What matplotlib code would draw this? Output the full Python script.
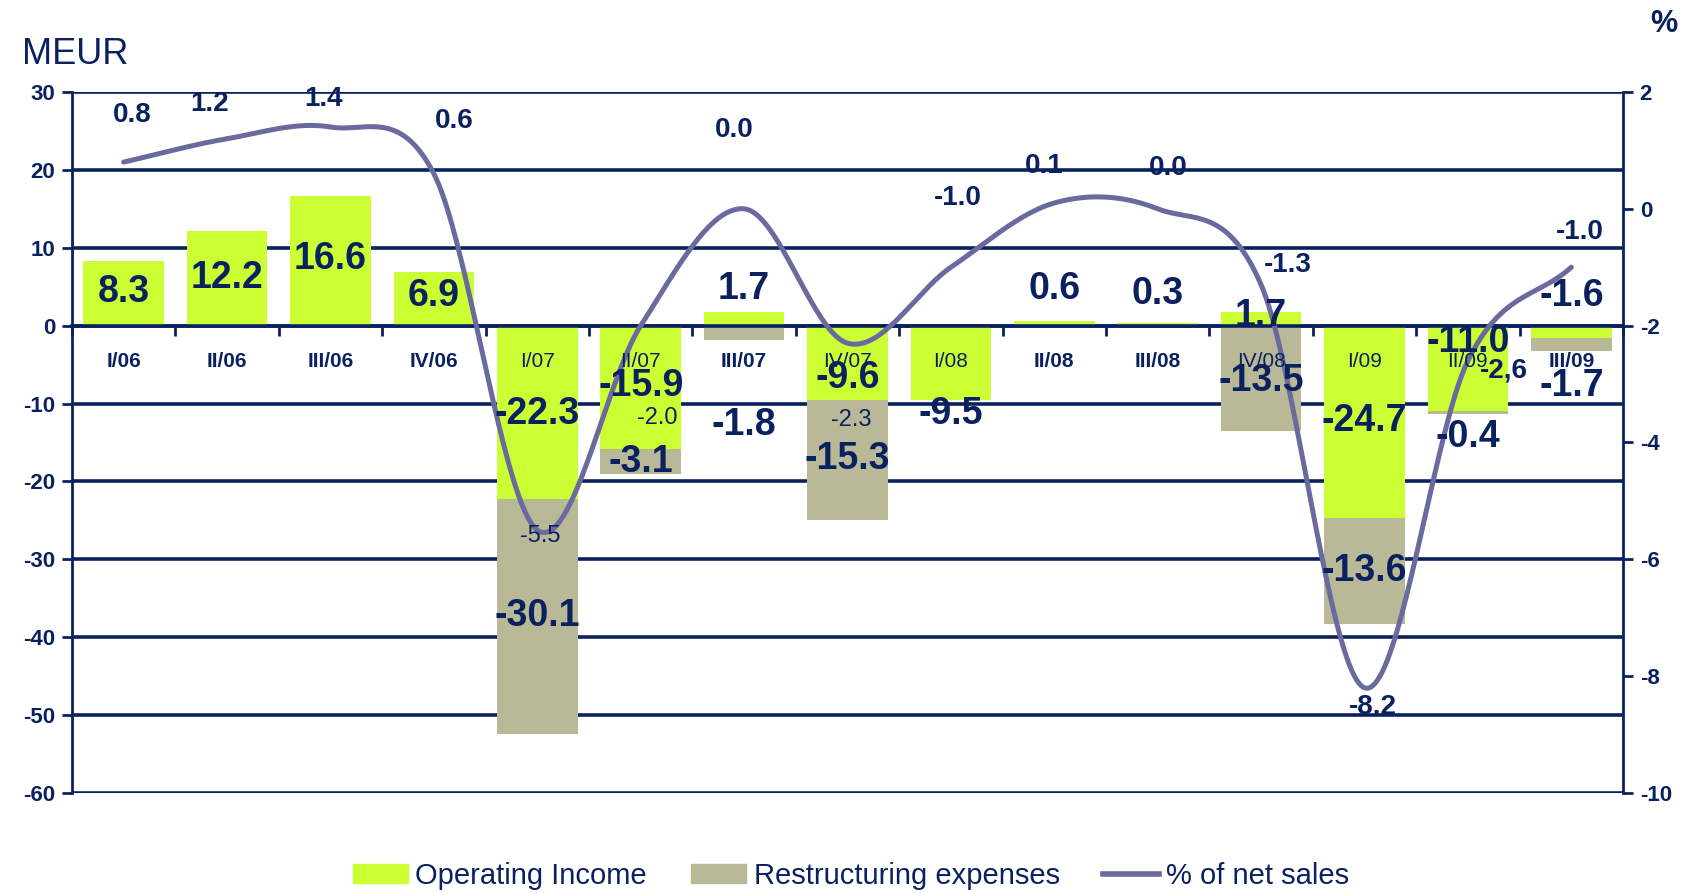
import numpy as np
import matplotlib
matplotlib.use('Agg')
import matplotlib.pyplot as plt
from matplotlib.patches import Patch
from matplotlib.lines import Line2D

plt.rcParams['font.family'] = ['Liberation Sans', 'DejaVu Sans']
plt.rcParams['axes.unicode_minus'] = False

# data
quarters = ['I/06', 'II/06', 'III/06', 'IV/06', 'I/07', 'II/07', 'III/07', 'IV/07',
            'I/08', 'II/08', 'III/08', 'IV/08', 'I/09', 'II/09', 'III/09']
operating_income = [8.3, 12.2, 16.6, 6.9, -22.3, -15.9, 1.7, -9.6,
                    -9.5, 0.6, 0.3, 1.7, -24.7, -11.0, -1.6]
restructuring = [0, 0, 0, 0, -30.1, -3.1, -1.8, -15.3,
                 0, 0, 0, -13.5, -13.6, -0.4, -1.7]
pct_net_sales = [0.8, 1.2, 1.4, 0.6, -5.5, -2.0, 0.0, -2.3,
                 -1.0, 0.1, 0.0, -1.3, -8.2, -2.6, -1.0]

# label placement (left axis units / category offsets)
oi_label_y = [4.3, 6.1, 8.5, 3.8, -11.3, -7.8, 4.7, -6.7, -11.3, 4.7, 4.0, 1.25, -12.3, -2.1, 3.8]
rs_label_y = [None, None, None, None, -37.3, -17.5, -12.7, -17.1,
              None, None, None, -7.1, -31.5, -14.3, -7.8]
pct_label_y = [27.0, 28.4, 29.1, 26.3, -27.0, -11.8, 25.1, -12.1,
               16.4, 20.5, 20.3, 7.8, -48.9, -5.7, 12.0]
pct_label_dx = [0.08, -0.17, -0.07, 0.2, 0.03, 0.16, -0.1, 0.04,
                0.07, -0.1, 0.1, 0.26, 0.08, 0.35, 0.08]
cat_label_y = -4.6
bold_cats = [0, 1, 2, 3, 6, 9, 10, 14]

NAVY = '#0A2160'
GREEN = '#CCFF33'
KHAKI = '#B9B897'
LINE = '#6A6A9E'


def catmull_rom(xs, ys, n=40):
    # smooth line like the spreadsheet's "smoothed line" option
    P = np.column_stack([xs, ys]).astype(float)
    P = np.vstack([2 * P[0] - P[1], P, 2 * P[-1] - P[-2]])
    t = np.linspace(0, 1, n, endpoint=False)[:, None]
    pts = []
    for i in range(1, len(P) - 2):
        p0, p1, p2, p3 = P[i - 1], P[i], P[i + 1], P[i + 2]
        seg = 0.5 * ((2 * p1) + (-p0 + p2) * t + (2 * p0 - 5 * p1 + 4 * p2 - p3) * t ** 2
                     + (-p0 + 3 * p1 - 3 * p2 + p3) * t ** 3)
        pts.append(seg)
    pts.append(P[-2][None, :])
    pts = np.vstack(pts)
    return pts[:, 0], pts[:, 1]


fig = plt.figure(figsize=(17.02, 8.93), dpi=100)
ax = fig.add_axes([0.0423, 0.112, 0.9113, 0.785])
x = np.arange(len(quarters))

# restructuring hangs below the negative part of operating income
rs_bottom = np.minimum(operating_income, 0)
ax.bar(x, operating_income, width=0.78, color=GREEN, zorder=1)
ax.bar(x, restructuring, width=0.78, bottom=rs_bottom, color=KHAKI, zorder=1)

ax.set_xlim(-0.5, len(quarters) - 0.5)
ax.set_ylim(-60, 30)
ax.set_yticks(np.arange(-60, 31, 10))
ax.set_axisbelow(True)
ax.yaxis.grid(True, color=NAVY, lw=2.6)
for s in ['top', 'right']:
    ax.spines[s].set_visible(False)
ax.spines['left'].set_color(NAVY)
ax.spines['left'].set_linewidth(2)
ax.spines['bottom'].set_position(('data', 0))
ax.spines['bottom'].set_color(NAVY)
ax.spines['bottom'].set_linewidth(2.6)
ax.spines['bottom'].set_zorder(2.5)

ax.set_xticks(x)
ax.set_xticklabels([])
ax.set_xticks(np.arange(-0.5, len(quarters), 1), minor=True)
ax.tick_params(axis='x', which='major', length=0)
ax.tick_params(axis='x', which='minor', length=7, width=2, direction='out', color=NAVY)
ax.tick_params(axis='y', length=7, width=2, color=NAVY, labelsize=16, labelcolor=NAVY, pad=5)
for lab in ax.get_yticklabels():
    lab.set_fontweight('bold')

ax2 = ax.twinx()
ax2.set_ylim(-10, 2)
ax2.set_yticks(np.arange(-10, 3, 2))
for s in ['top', 'left', 'bottom']:
    ax2.spines[s].set_visible(False)
ax2.spines['right'].set_color(NAVY)
ax2.spines['right'].set_linewidth(2)
ax2.tick_params(axis='y', length=7, width=2, color=NAVY, labelsize=16, labelcolor=NAVY, pad=5)
for lab in ax2.get_yticklabels():
    lab.set_fontweight('bold')

# category labels sit on top of the bars
for i, q in enumerate(quarters):
    ax2.text(i, cat_label_y, q, transform=ax.transData, ha='center', va='center',
             fontsize=15, fontweight='bold' if i in bold_cats else 'normal',
             color=NAVY, zorder=4)

sx, sy = catmull_rom(x, pct_net_sales)
ax2.plot(sx, sy, color=LINE, lw=3.6, solid_capstyle='round', zorder=3)

# data labels
for i, v in enumerate(operating_income):
    ax2.text(i, oi_label_y[i], f"{v:.1f}", transform=ax.transData, ha='center', va='center',
             fontsize=27, fontweight='bold', color=NAVY, zorder=5)
for i, v in enumerate(restructuring):
    if rs_label_y[i] is not None:
        ax2.text(i, rs_label_y[i], f"{v:.1f}", transform=ax.transData, ha='center', va='center',
                 fontsize=27, fontweight='bold', color=NAVY, zorder=5)
pct_text = [f"{v:.1f}" for v in pct_net_sales]
pct_text[13] = pct_text[13].replace('.', ',')
for i, s in enumerate(pct_text):
    small = i in (4, 5, 7)
    ax2.text(i + pct_label_dx[i], pct_label_y[i], s, transform=ax.transData, ha='center',
             va='center', fontsize=17 if small else 20, fontweight='normal' if small else 'bold',
             color=NAVY, zorder=5)

fig.text(22 / 1702, 1 - 54 / 893, 'MEUR', fontsize=26, color=NAVY, va='center', ha='left')
fig.text(1664 / 1702, 1 - 24 / 893, '%', fontsize=22, fontweight='bold', color=NAVY,
         va='center', ha='center')

handles = [Patch(color=GREEN), Patch(color=KHAKI), Line2D([0], [0], color=LINE, lw=4)]
fig.legend(handles, ['Operating Income', 'Restructuring expenses', '% of net sales'],
           loc='center', bbox_to_anchor=(0.5, 1 - 876 / 893), ncol=3, frameon=False,
           fontsize=21, labelcolor=NAVY, handlelength=1.9, handleheight=0.6,
           handletextpad=0.25, columnspacing=1.5)

fig.savefig('out.png', dpi=100, facecolor='white')
